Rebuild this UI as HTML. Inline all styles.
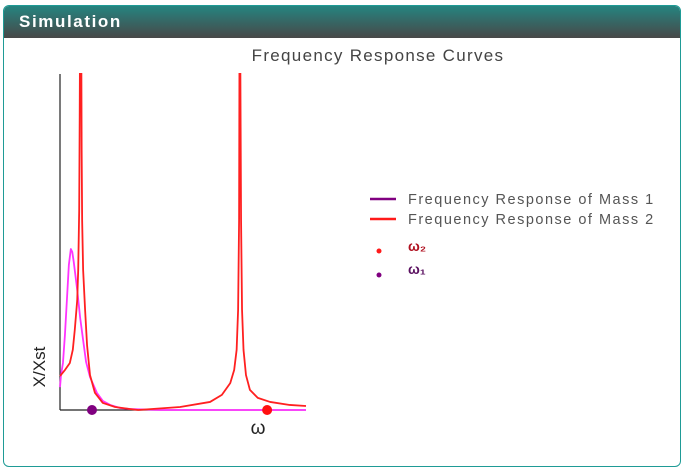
<!DOCTYPE html>
<html><head><meta charset="utf-8"><style>
body{margin:0;width:686px;height:472px;background:#fff;font-family:"Liberation Sans","DejaVu Sans",sans-serif;overflow:hidden}
#panel{position:absolute;left:3px;top:5px;width:676px;height:460px;border:1.5px solid #1f9b96;border-radius:6px;overflow:hidden}
#hdr{height:32px;background:linear-gradient(#258480,#484848);color:#fff;font-weight:bold;font-size:17px;line-height:31px;padding-left:15px;letter-spacing:1.6px}
svg{position:absolute;left:0;top:0}
</style></head><body>
<div id="panel">
<div id="hdr">Simulation</div>
</div>
<svg id="chart" width="686" height="472">
<defs><clipPath id="clip"><rect x="55" y="73" width="260" height="345"/></clipPath></defs>
<text x="378" y="61" text-anchor="middle" font-size="17" letter-spacing="1.3" fill="#444">Frequency Response Curves</text>
<line x1="60" y1="74" x2="60" y2="410" stroke="#222" stroke-width="1.2"/>
<line x1="60" y1="410" x2="306" y2="410" stroke="#222" stroke-width="1.2"/>
<text x="258" y="434" text-anchor="middle" font-size="19" fill="#222">ω</text>
<text transform="translate(45,367) rotate(-90)" text-anchor="middle" font-size="17" fill="#222">X/Xst</text>
<g id="plot" clip-path="url(#clip)"></g>
<g id="legend">
<line x1="370" y1="199" x2="396" y2="199" stroke="#800080" stroke-width="2.5"/>
<text x="408" y="204" font-size="14.5" letter-spacing="1.5" fill="#555">Frequency Response of Mass 1</text>
<line x1="370" y1="219" x2="396" y2="219" stroke="#ff1a1a" stroke-width="2.5"/>
<text x="408" y="224" font-size="14.5" letter-spacing="1.5" fill="#555">Frequency Response of Mass 2</text>
<circle cx="379" cy="251" r="2.5" fill="#ff1a1a"/>
<text x="408" y="251" font-size="14" font-weight="bold" fill="#b01020">ω₂</text>
<circle cx="379" cy="275" r="2.5" fill="#800080"/>
<text x="408" y="274" font-size="14" font-weight="bold" fill="#5a1060">ω₁</text>
</g>
</svg>
<script>
const mass2W=[0,0.10,0.20,0.26,0.30,0.35,0.37,0.39,0.40,0.41,0.43,0.44,0.45,0.47,0.51,0.55,0.61,0.71,0.87,1.12,1.42,1.59,2.44,3.05,3.29,3.46,3.54,3.59,3.62,3.64,3.65,3.66,3.68,3.70,3.73,3.78,3.86,4.02,4.27,4.67,5];
const mass2A=[1.01,1.19,1.40,1.79,2.38,3.27,4.17,5.95,8.63,12,12,7.74,5.65,4.17,2.98,1.93,1.04,0.51,0.21,0.09,0.03,0,0.09,0.24,0.45,0.80,1.19,1.79,2.98,5.65,12,12,5.65,2.98,1.79,1.04,0.60,0.36,0.24,0.15,0.12];
const mass1W=[0,0.02,0.06,0.10,0.14,0.18,0.22,0.25,0.28,0.35,0.41,0.47,0.53,0.61,0.75,0.87,1.02,1.22,1.42,2.03,5];
const mass1A=[0.68,1.04,1.40,2.23,3.27,4.32,4.79,4.70,4.40,3.57,2.74,2.08,1.43,0.98,0.51,0.27,0.15,0.06,0.03,0,0];
const omegaMarkers=[0.65,4.21];
const W_MAX=5, A_MAX=10;
function xs(w){return 60+w/W_MAX*246;}
function ys(a){return 410-a/A_MAX*336;}
const NS='http://www.w3.org/2000/svg';
const plot=document.getElementById('plot');
function line(W,A,color,name){
  const p=document.createElementNS(NS,'polyline');
  p.setAttribute('points',W.map((w,i)=>xs(w)+','+ys(A[i])).join(' '));
  p.setAttribute('fill','none');p.setAttribute('stroke',color);p.setAttribute('stroke-width','1.8');
  p.setAttribute('stroke-linejoin','round');
  
  
  plot.appendChild(p);
}
line(mass1W,mass1A,'#ff33ff','mass-1-curve');
line(mass2W,mass2A,'#ff2020','mass-2-curve');
const svg=document.getElementById('chart');
const cols=['#800080','#ff1010'];
omegaMarkers.forEach((w,i)=>{
  const c=document.createElementNS(NS,'circle');
  c.setAttribute('cx',xs(w));c.setAttribute('cy',ys(0));c.setAttribute('r','5');c.setAttribute('fill',cols[i]);
  
  
  svg.appendChild(c);
});
</script>
</body></html>
